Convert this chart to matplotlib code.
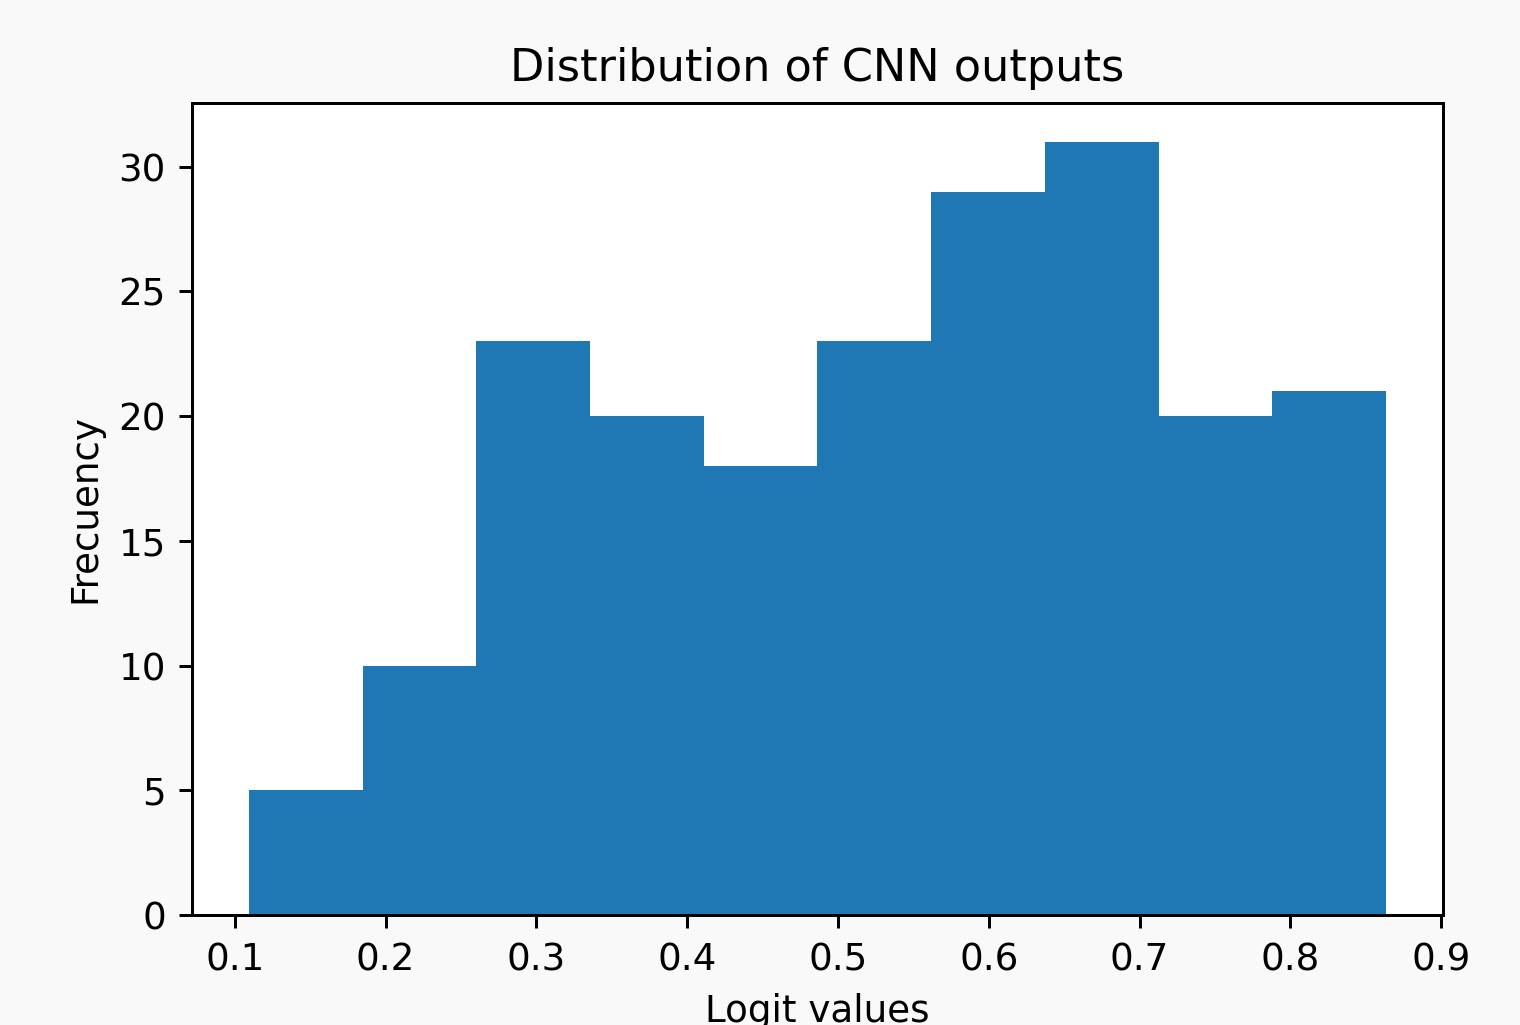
import numpy as np
import matplotlib
matplotlib.use("Agg")
import matplotlib.pyplot as plt

# Histogram of the CNN logits
bin_edges = [0.1093, 0.1847, 0.2601, 0.3356, 0.4110, 0.4864,
             0.5618, 0.6372, 0.7127, 0.7881, 0.8635]
counts = [5, 10, 23, 20, 18, 23, 29, 31, 20, 21]

title = "Distribution of CNN outputs"
x_label = "Logit values"
y_label = "Frecuency"

# ********************************************************************************
dpi = 268
fig = plt.figure(figsize=(1521 / dpi, 1025 / dpi), dpi=dpi, facecolor="#f9f9f9")
ax = fig.add_axes([192 / 1521, 110 / 1025, 1251 / 1521, 812 / 1025])
ax.set_facecolor("white")

# one weight per bin so each bar gets its count
# (stepfilled -> one polygon, no hairline seams between bars)
ax.hist(bin_edges[:-1], bins=bin_edges, weights=counts, color="#1f77b4",
        histtype="stepfilled")

ax.set_title(title)
ax.set_xlabel(x_label)
ax.set_ylabel(y_label)
ax.set_xticks(np.arange(0.1, 0.91, 0.1))
ax.set_xticklabels(["%.1f" % t for t in np.arange(0.1, 0.91, 0.1)])

fig.savefig("out.png", dpi=dpi, facecolor=fig.get_facecolor())
